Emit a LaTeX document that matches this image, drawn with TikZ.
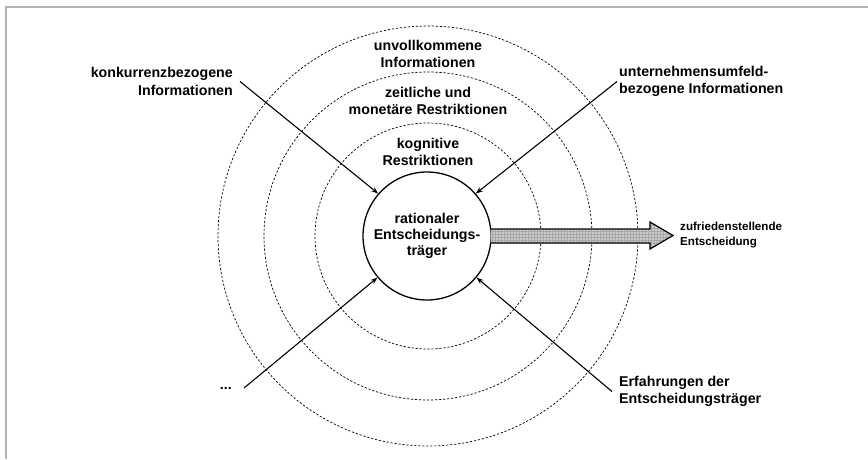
\documentclass[tikz,border=0pt]{standalone}
\usepackage{fontspec}
\setmainfont{Liberation Sans}
\usetikzlibrary{arrows.meta,calc,patterns}
\begin{document}
\begin{tikzpicture}[x=1pt,y=-1pt,
  lbl/.style={inner sep=0pt,font=\bfseries\fontsize{14.2}{17.5}\selectfont},
  ring/.style={circle,draw,line width=0.7pt,dash pattern=on 2.2pt off 1.8pt,inner sep=0pt},
  arr/.style={line width=1.1pt,-{Stealth[length=7pt,width=5pt]}},
  core/.style={circle,draw,line width=1.3pt,fill=white,minimum size=128pt,inner sep=0pt,align=center,
    font=\bfseries\fontsize{14.2}{17.5}\selectfont},
  bigarrow/.style={draw,line width=1.2pt,line join=miter}
]
% canvas and frame
\useasboundingbox (0,0) rectangle (868,459);
\draw[black!30,line width=2pt] (5.5,459) -- (5.5,6.5) -- (868,6.5);

% dashed rings of restrictions
\coordinate (c) at (428,236);
\node[ring,minimum size=420pt] (ringA) at (c) {};
\node[ring,minimum size=328pt] (ringB) at (c) {};
\node[ring,minimum size=226pt] (ringC) at (c) {};

% ring labels
\node[lbl,align=center] (lA) at (428,54) {unvollkommene\\Informationen};
\node[lbl,align=center] (lB) at (428,101) {zeitliche und\\monetäre Restriktionen};
\node[lbl,align=center] (lC) at (428,152) {kognitive\\Restriktionen};

% decision maker
\node[core] (dm) at (427,236) {\raisebox{-3pt}{\begin{tabular}{@{}c@{}}rationaler\\[-1.5pt]Entscheidungs-\\[-1.5pt]träger\end{tabular}}};

% influences
\node[lbl,align=right,anchor=east] (konk) at (233,81.5) {konkurrenzbezogene\\Informationen};
\node[lbl,align=left,anchor=west] (umf) at (619,81.5) {unternehmensumfeld-\\bezogene Informationen};
\node[lbl,anchor=east] (dots) at (232,388) {...};
\node[lbl,align=left,anchor=west] (erf) at (619,391.5) {Erfahrungen der\\Entscheidungsträger};

\draw[arr] ([xshift=7pt]konk.east) -- (dm.139);
\draw[arr] ([xshift=-2pt]umf.west) -- (dm.41);
\draw[arr] ([xshift=12pt]dots.east) -- (dm.220);
\draw[arr] ([xshift=-7pt]erf.west) -- (dm.320);

% outcome arrow
\coordinate (s) at (dm.east);
\path[fill=black!20]
  ($(s)+(-1,-7)$) -- (650,229) -- (650,222) -- (673,235.5) -- (650,249) -- (650,243) -- ($(s)+(-1,7)$) -- cycle;
\path[pattern=grid,pattern color=black!35]
  ($(s)+(-1,-7)$) -- (650,229) -- (650,222) -- (673,235.5) -- (650,249) -- (650,243) -- ($(s)+(-1,7)$) -- cycle;
\draw[bigarrow]
  ($(s)+(-1,-7)$) -- (650,229) -- (650,222) -- (673,235.5) -- (650,249) -- (650,243) -- ($(s)+(-1,7)$);
\node[inner sep=0pt,anchor=west,align=left,font=\bfseries\fontsize{11.6}{15}\selectfont] (res) at (680,235.5)
  {zufriedenstellende\\Entscheidung};
\end{tikzpicture}
\end{document}
